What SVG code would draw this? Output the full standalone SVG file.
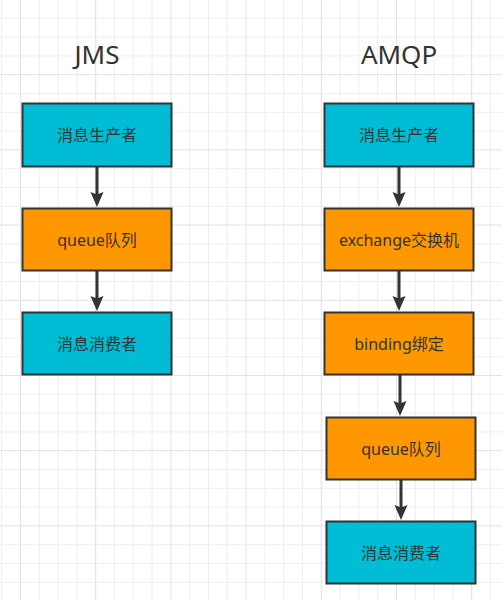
<svg xmlns="http://www.w3.org/2000/svg" width="502" height="600" viewBox="0 0 502 600">
<style>
.minor{stroke:#eeeeee;stroke-width:1;fill:none}
.major{stroke:#e2e2e2;stroke-width:1;fill:none}
.box rect{stroke:#333333;stroke-width:2}
.cyan rect{fill:#00bcd4}
.orange rect{fill:#ff9800}
.box text{font-family:"Noto Sans","Noto Sans CJK SC",sans-serif;font-size:16px;fill:#333333;text-anchor:middle;dominant-baseline:central}
.title{font-family:"Noto Sans","Noto Sans CJK SC",sans-serif;font-size:26px;fill:#333333;text-anchor:middle}
.conn line{stroke:#333333;stroke-width:3}
</style>
<defs>
<marker id="ah" markerUnits="userSpaceOnUse" markerWidth="18" markerHeight="16" viewBox="-16 -8 18 16" refX="-10" refY="0" orient="auto">
<path d="M0,0 L-15,-6.5 L-12.5,0 L-15,6.5 Z" fill="#333333"/>
</marker>
</defs>
<rect width="502" height="600" fill="#ffffff"/>
<g id="grid">
<path class="minor" d="M1.7,0V600M39.3,0V600M58.1,0V600M76.9,0V600M114.5,0V600M133.3,0V600M152.1,0V600M189.7,0V600M208.5,0V600M227.3,0V600M264.9,0V600M283.7,0V600M302.5,0V600M340.1,0V600M358.9,0V600M377.7,0V600M415.3,0V600M434.1,0V600M452.9,0V600M490.5,0V600M0,18.3H502M0,37.1H502M0,55.9H502M0,93.5H502M0,112.3H502M0,131.1H502M0,168.7H502M0,187.5H502M0,206.3H502M0,243.9H502M0,262.7H502M0,281.5H502M0,319.1H502M0,337.9H502M0,356.7H502M0,394.3H502M0,413.1H502M0,431.9H502M0,469.5H502M0,488.3H502M0,507.1H502M0,544.7H502M0,563.5H502M0,582.3H502"/>
<path class="major" d="M20.5,0V600M95.7,0V600M170.9,0V600M246.1,0V600M321.3,0V600M396.5,0V600M471.7,0V600M0,74.7H502M0,149.9H502M0,225.1H502M0,300.3H502M0,375.5H502M0,450.7H502M0,525.9H502"/>
</g>
<text class="title" x="97" y="64">JMS</text>
<text class="title" x="399" y="64">AMQP</text>
<g id="connectors" class="conn">
<line x1="97" y1="167" x2="97" y2="197" marker-end="url(#ah)"/>
<line x1="97" y1="271" x2="97" y2="301" marker-end="url(#ah)"/>
<line x1="399" y1="167" x2="399" y2="197" marker-end="url(#ah)"/>
<line x1="399" y1="271" x2="399" y2="301" marker-end="url(#ah)"/>
<line x1="400" y1="375" x2="400" y2="406" marker-end="url(#ah)"/>
<line x1="401" y1="480" x2="401" y2="510" marker-end="url(#ah)"/>
</g>
<g id="jms-producer" class="box cyan"><rect x="22.5" y="103.5" width="149" height="63"/><text x="97" y="135">消息生产者</text></g>
<g id="jms-queue" class="box orange"><rect x="22.5" y="208.5" width="149" height="62"/><text x="97" y="239.5">queue队列</text></g>
<g id="jms-consumer" class="box cyan"><rect x="22.5" y="312.5" width="149" height="62"/><text x="97" y="343.5">消息消费者</text></g>
<g id="amqp-producer" class="box cyan"><rect x="324.5" y="103.5" width="149" height="63"/><text x="399" y="135">消息生产者</text></g>
<g id="amqp-exchange" class="box orange"><rect x="324.5" y="208.5" width="149" height="62"/><text x="399" y="239.5">exchange交换机</text></g>
<g id="amqp-binding" class="box orange"><rect x="324.5" y="312.5" width="149" height="62"/><text x="399" y="343.5">binding绑定</text></g>
<g id="amqp-queue" class="box orange"><rect x="326.5" y="417.5" width="149" height="62"/><text x="401" y="448.5">queue队列</text></g>
<g id="amqp-consumer" class="box cyan"><rect x="326.5" y="521.5" width="149" height="62"/><text x="401" y="552.5">消息消费者</text></g>
</svg>
